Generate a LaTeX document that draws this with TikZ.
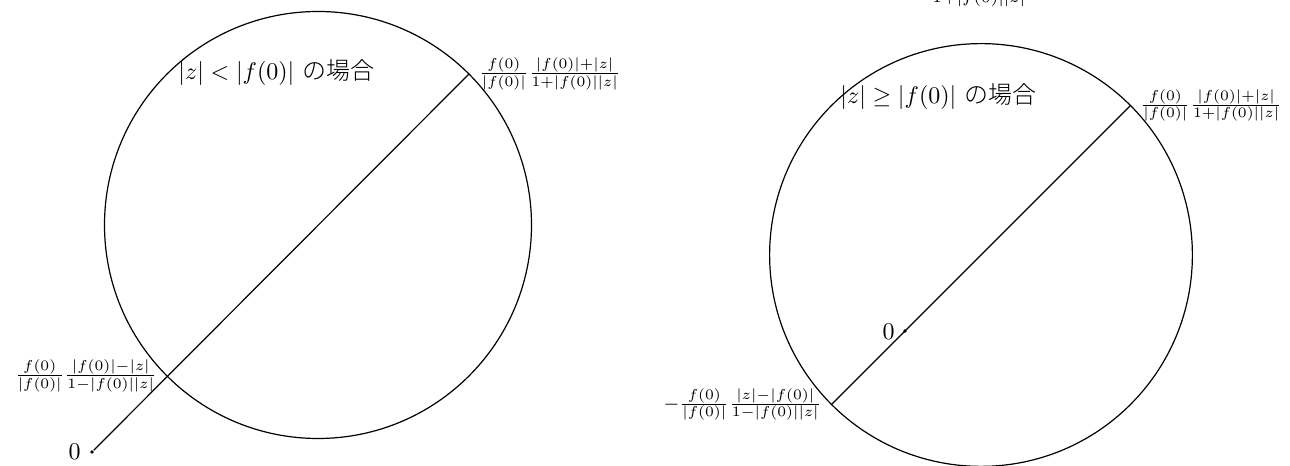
\documentclass[tikz,border=0pt]{standalone}
\usepackage{fontspec}
\newfontfamily\cjk{Noto Sans CJK JP Light}
\usetikzlibrary{calc}
\tikzset{
  curve/.style={line width=0.5pt},
  zerodot/.style={circle,fill,inner sep=0pt,minimum size=1.6pt},
  fraclabel/.style={font=\fontsize{8}{9}\selectfont,inner sep=2pt},
  titlelabel/.style={anchor=base west,inner sep=0pt},
  zerolabel/.style={anchor=east,inner sep=0pt}
}
\begin{document}
\begin{tikzpicture}[x=0.41667pt,y=-0.41667pt]
\useasboundingbox (0,0) rectangle (1290,466);
\clip (0,0) rectangle (1290,466);
% ---------- left diagram ----------
\coordinate (cL) at (318,225);
\coordinate (upL) at (468.97,74.03);
\coordinate (loL) at (167.03,375.97);
\node[zerodot] (zL) at (92,452) {};
\draw[curve] (cL) circle[radius=88.96pt];
\draw[curve] (zL) -- (upL);
\node[zerolabel] (zLt) at (81,452) {$0$};
\node[fraclabel,anchor=west] (uLt) at ([xshift=2pt]upL) {$\frac{f(0)}{|f(0)|}\frac{|f(0)|+|z|}{1+|f(0)||z|}$};
\node[fraclabel,anchor=east] (lLt) at ([xshift=-2pt]loL) {$\frac{f(0)}{|f(0)|}\frac{|f(0)|-|z|}{1-|f(0)||z|}$};
\node[titlelabel] (tL) at (178,80) {$|z|<|f(0)|$ {\cjk の場合}};
% ---------- right diagram ----------
\coordinate (cR) at (981,255);
\coordinate (upR) at (1130.4,105.6);
\coordinate (loR) at (831.6,404.4);
\node[zerodot] (zR) at (905,331) {};
\draw[curve] (cR) circle[radius=88.08pt];
\draw[curve] (loR) -- (upR);
\node[zerolabel] (zRt) at (895,332) {$0$};
\node[fraclabel,anchor=west] (uRt) at ([xshift=2pt]upR) {$\frac{f(0)}{|f(0)|}\frac{|f(0)|+|z|}{1+|f(0)||z|}$};
\node[fraclabel,anchor=east] (lRt) at ([xshift=-2pt]loR) {$-\frac{f(0)}{|f(0)|}\frac{|z|-|f(0)|}{1-|f(0)||z|}$};
\node[titlelabel] (tR) at (840,104) {$|z|\geq|f(0)|$ {\cjk の場合}};
% ---------- cut-off fragment at top ----------
\node[titlelabel] (topfrag) at (932,3) {$\scriptstyle 1+|f(0)||z|$};
\end{tikzpicture}
\end{document}
